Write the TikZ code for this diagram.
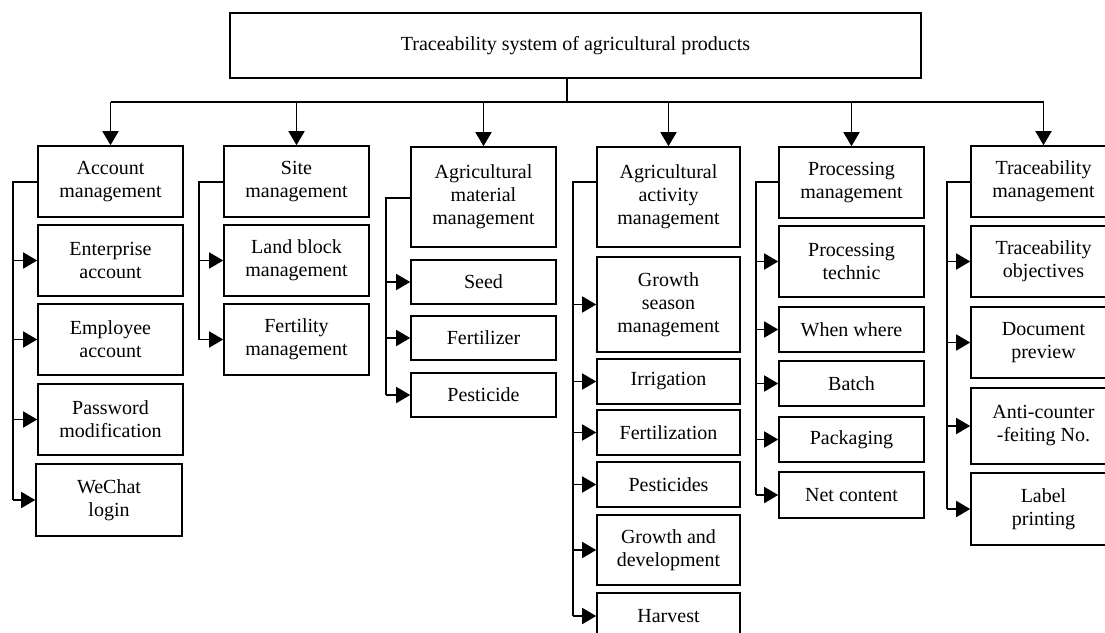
\documentclass[tikz,border=0pt]{standalone}
\usepackage{fontspec}
\setmainfont{Liberation Serif}
\usetikzlibrary{arrows.meta}

\begin{document}
\begin{tikzpicture}[x=1pt, y=-1pt, line width=1.6pt,
    box/.style = {draw, align=center, inner sep=0pt, minimum width=145pt,
                  font=\fontsize{20}{23}\selectfont},
    arr/.style = {-{Triangle[length=14pt, width=16pt]}}]
    \useasboundingbox (0,0) rectangle (1105,632);

    \node[box, minimum width=691pt, minimum height=65pt] (top) at (575.5,45.5)
        {Traceability system of agricultural products};

    % column heads
    \node[box, minimum height=71pt]  (acc)  at (110.5,181.5)  {Account\\management};
    \node[box, minimum height=71pt]  (site) at (296.5,181.5)  {Site\\management};
    \node[box, minimum height=100pt] (mat)  at (483.5,197)    {Agricultural\\material\\management};
    \node[box, minimum width=143pt, minimum height=100pt] (act) at (668.5,197) {Agricultural\\activity\\management};
    \node[box, minimum height=71pt]  (pro)  at (851.5,182.5)  {Processing\\management};
    \node[box, minimum height=71pt]  (tra)  at (1043.5,181.5) {Traceability\\management};

    % account
    \node[box, minimum height=71pt] (ent) at (110.5,260.5) {Enterprise\\account};
    \node[box, minimum height=71pt] (emp) at (110.5,339.5) {Employee\\account};
    \node[box, minimum height=71pt] (pwd) at (110.5,419.5) {Password\\modification};
    \node[box, minimum width=146pt, minimum height=72pt] (wec) at (109,500) {WeChat\\login};

    % site
    \node[box, minimum height=71pt] (land) at (296.5,260.5) {Land block\\management};
    \node[box, minimum height=71pt] (fty)  at (296.5,339.5) {Fertility\\management};

    % material
    \node[box, minimum height=44pt] (seed) at (483.5,282) {Seed};
    \node[box, minimum height=44pt] (fzr)  at (483.5,338) {Fertilizer};
    \node[box, minimum height=44pt] (pst)  at (483.5,395) {Pesticide};

    % activity
    \node[box, minimum width=143pt, minimum height=95pt] (grs)  at (668.5,304.5) {Growth\\season\\management};
    \node[box, minimum width=143pt, minimum height=45pt] (irr)  at (668.5,381.5) {Irrigation};
    \node[box, minimum width=143pt, minimum height=45pt] (fzn)  at (668.5,432.5) {Fertilization};
    \node[box, minimum width=143pt, minimum height=45pt] (psts) at (668.5,484.5) {Pesticides};
    \node[box, minimum width=143pt, minimum height=70pt] (gad)  at (668.5,550)   {Growth and\\development};
    \node[box, minimum width=143pt, minimum height=46pt] (har)  at (668.5,616)   {Harvest};

    % processing
    \node[box, minimum height=71pt] (tec) at (851.5,261.5) {Processing\\technic};
    \node[box, minimum height=45pt] (ww)  at (851.5,329.5) {When where};
    \node[box, minimum height=45pt] (bat) at (851.5,383.5) {Batch};
    \node[box, minimum height=45pt] (pkg) at (851.5,439.5) {Packaging};
    \node[box, minimum height=46pt] (net) at (851.5,495)   {Net content};

    % traceability
    \node[box, minimum height=71pt] (obj)  at (1043.5,261.5) {Traceability\\objectives};
    \node[box, minimum height=71pt] (doc)  at (1043.5,342.5) {Document\\preview};
    \node[box, minimum height=76pt] (anti) at (1043.5,426)   {Anti-counter\\-feiting No.};
    \node[box, minimum height=72pt] (lab)  at (1043.5,509)   {Label\\printing};

    % top level bus
    \coordinate (bus) at (567,102);
    \draw (top.south -| bus) -- (bus);
    \draw (acc.north |- bus) -- (tra.north |- bus);
    \foreach \h in {acc, site, mat, act, pro, tra}
      \draw[arr] (\h.north |- bus) -- (\h.north);

    % spines
    \coordinate (s1) at (13,182);
    \coordinate (s2) at (199,182);
    \coordinate (s3) at (386,198);
    \coordinate (s4) at (573,182);
    \coordinate (s5) at (756,182);
    \coordinate (s6) at (947,182);

    \draw (acc.west |- s1) -- (s1) -- (s1 |- wec.west);
    \foreach \c in {ent, emp, pwd, wec}
      \draw[arr] (s1 |- \c.west) -- (\c.west);

    \draw (site.west |- s2) -- (s2) -- (s2 |- fty.west);
    \foreach \c in {land, fty}
      \draw[arr] (s2 |- \c.west) -- (\c.west);

    \draw (mat.west |- s3) -- (s3) -- (s3 |- pst.west);
    \foreach \c in {seed, fzr, pst}
      \draw[arr] (s3 |- \c.west) -- (\c.west);

    \draw (act.west |- s4) -- (s4) -- (s4 |- har.west);
    \foreach \c in {grs, irr, fzn, psts, gad, har}
      \draw[arr] (s4 |- \c.west) -- (\c.west);

    \draw (pro.west |- s5) -- (s5) -- (s5 |- net.west);
    \foreach \c in {tec, ww, bat, pkg, net}
      \draw[arr] (s5 |- \c.west) -- (\c.west);

    \draw (tra.west |- s6) -- (s6) -- (s6 |- lab.west);
    \foreach \c in {obj, doc, anti, lab}
      \draw[arr] (s6 |- \c.west) -- (\c.west);
  \end{tikzpicture}
\end{document}
